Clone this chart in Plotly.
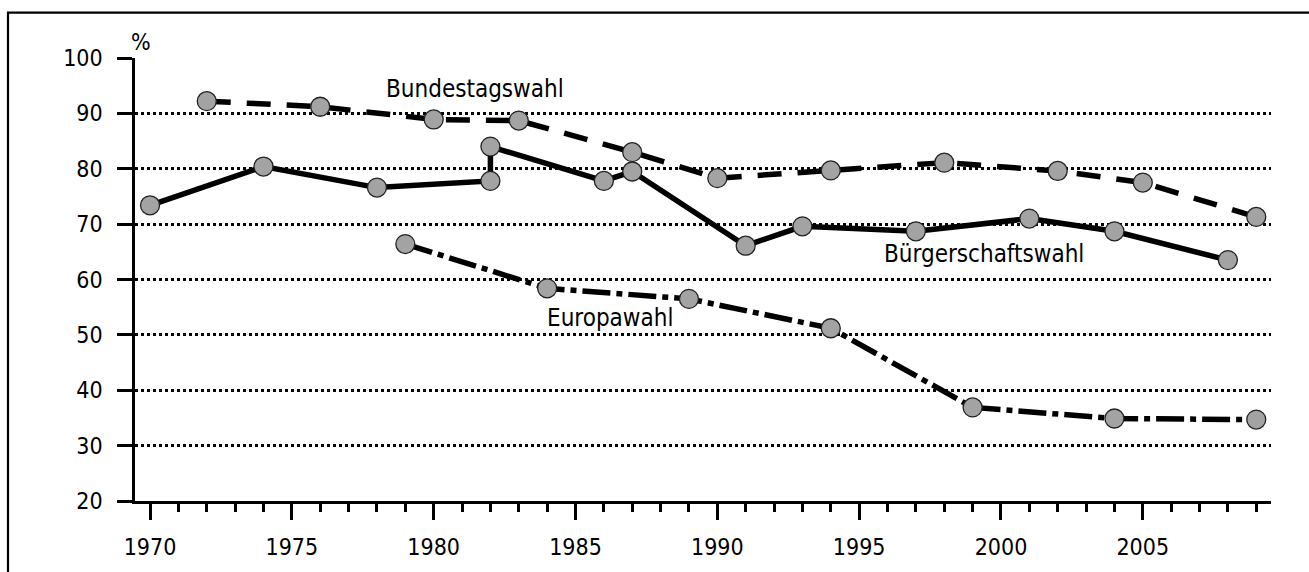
import plotly.graph_objects as go

# Wahlbeteiligung in Hamburg (%)
bundestag_years = [1972, 1976, 1980, 1983, 1987, 1990, 1994, 1998, 2002, 2005, 2009]
bundestag_vals = [92.2, 91.2, 88.9, 88.7, 83.0, 78.3, 79.7, 81.1, 79.6, 77.5, 71.3]

buergerschaft_years = [1970, 1974, 1978, 1982, 1982, 1986, 1987, 1991, 1993, 1997, 2001, 2004, 2008]
buergerschaft_vals = [73.4, 80.4, 76.6, 77.8, 84.0, 77.8, 79.5, 66.1, 69.6, 68.7, 71.0, 68.7, 63.5]

europa_years = [1979, 1984, 1989, 1994, 1999, 2004, 2009]
europa_vals = [66.4, 58.4, 56.5, 51.2, 36.9, 34.9, 34.7]

FONT = "Liberation Sans Narrow, Arial Narrow, DejaVu Sans Condensed, sans-serif"
marker = dict(size=19, color="#a3a3a3", line=dict(color="#222222", width=1.3))

fig = go.Figure()
fig.add_trace(go.Scatter(x=bundestag_years, y=bundestag_vals, mode="lines+markers",
                         line=dict(color="black", width=5.5, dash="24px,16px"),
                         marker=marker, name="Bundestagswahl"))
fig.add_trace(go.Scatter(x=buergerschaft_years, y=buergerschaft_vals, mode="lines+markers",
                         line=dict(color="black", width=5.5),
                         marker=marker, name="Bürgerschaftswahl"))
fig.add_trace(go.Scatter(x=europa_years, y=europa_vals, mode="lines+markers",
                         line=dict(color="black", width=5.5, dash="28px,6px,6px,6px"),
                         marker=marker, name="Europawahl"))

labels = [("Bundestagswahl", 1981.46, 94.4),
          ("Bürgerschaftswahl", 1999.4, 64.6),
          ("Europawahl", 1986.2, 53.1)]
for txt, x, y in labels:
    fig.add_annotation(x=x, y=y, text=txt, showarrow=False,
                       font=dict(family=FONT, size=24, color="black"))

# unit above the y axis (outside the data range, so in paper coordinates)
fig.add_annotation(x=0.005, y=1.035, xref="paper", yref="paper", text="%",
                   xanchor="center", yanchor="middle",
                   showarrow=False, font=dict(family=FONT, size=23, color="black"))

# outer frame (open at the bottom / right edge of the picture)
fig.add_shape(type="rect", xref="paper", yref="paper",
              x0=-0.1118, x1=1.04, y0=-0.25, y1=1.1025,
              line=dict(color="black", width=2.2))

fig.update_xaxes(range=[1969.47, 2009.52], tickmode="linear", tick0=1970, dtick=5,
                 ticks="outside", ticklen=16, tickwidth=2.5, tickcolor="black",
                 minor=dict(dtick=1, tick0=1970, ticks="outside", ticklen=8,
                            tickwidth=2.5, tickcolor="black"),
                 showline=True, linecolor="black", linewidth=2.5,
                 showgrid=False, zeroline=False, ticklabelstandoff=8,
                 tickfont=dict(family=FONT, size=23, color="black"))
fig.update_yaxes(range=[20, 100], tickmode="linear", tick0=20, dtick=10,
                 ticks="outside", ticklen=15, tickwidth=2.5, tickcolor="black",
                 showline=True, linecolor="black", linewidth=2.5,
                 showgrid=True, gridcolor="black", gridwidth=2.5, griddash="3px,3px",
                 zeroline=False, ticklabelstandoff=10,
                 tickfont=dict(family=FONT, size=23, color="black"))

fig.update_layout(width=1309, height=572, showlegend=False,
                  plot_bgcolor="white", paper_bgcolor="white",
                  margin=dict(l=135, r=38, t=58, b=62))

# drop the browser's default 8px body margin so the figure sits at the page corner
fig.write_html("out.html", config={"displayModeBar": False},
               post_script="document.body.style.margin='0px';")
